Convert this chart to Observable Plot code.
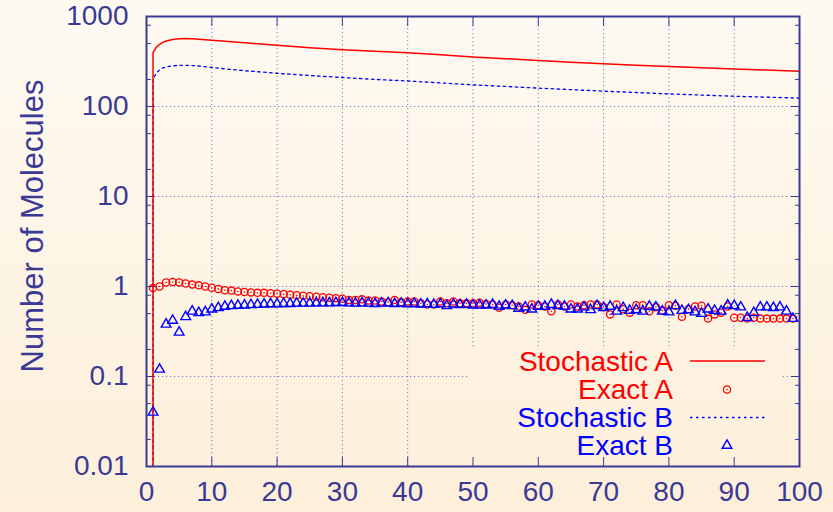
<!DOCTYPE html>
<html>
<head>
<meta charset="utf-8">
<script src="https://cdn.jsdelivr.net/npm/d3@7"></script>
<script src="https://cdn.jsdelivr.net/npm/@observablehq/plot@0.6"></script>
<style>
  html, body { margin: 0; padding: 0; }
  body {
    width: 833px; height: 512px; overflow: hidden;
    background: linear-gradient(to bottom, #fefaf2 0%, #fdf4e4 55%, #fdefda 100%);
    font-family: "Liberation Sans", Arial, Helvetica, sans-serif;
  }
  #chart { position: relative; width: 833px; height: 512px; }
</style>
</head>
<body>
<div id="chart"></div>
<script>
// ---- data -------------------------------------------------------------
// Stochastic simulation (continuous curves), sampled at these times
const stochTimes  = [1, 1, 1.5, 2, 2.5, 3, 4, 5, 6, 7, 8, 10, 12, 15, 20, 25, 30, 35, 40, 45, 50, 55, 60, 65, 70, 75, 80, 85, 90, 95, 100];
const stochasticA = [0.001, 400, 455, 490, 515, 535, 555, 565, 568, 566, 560, 545, 530, 510, 478, 450, 426, 410, 395, 375, 355, 340, 325, 310, 298, 288, 278, 270, 261, 254, 247];
const stochasticB = [0.001, 200, 235, 255, 268, 276, 283, 286, 287, 285, 282, 272, 262, 250, 234, 221, 210, 200, 192, 183, 174, 167, 160, 154, 148, 143, 138, 134, 130, 127, 124];

// Exact solution, one value per time step 1..99
const exactA = [
  0.96, 1.00, 1.11, 1.12, 1.11, 1.08, 1.05, 1.03, 1.00, 0.97,
  0.94, 0.91, 0.90, 0.88, 0.87, 0.86, 0.85, 0.85, 0.84, 0.83,
  0.82, 0.81, 0.80, 0.79, 0.78, 0.77, 0.76, 0.75, 0.74, 0.73,
  0.71, 0.71, 0.72, 0.70, 0.70, 0.68, 0.67, 0.71, 0.67, 0.68,
  0.68, 0.65, 0.63, 0.63, 0.68, 0.65, 0.68, 0.65, 0.65, 0.65,
  0.66, 0.64, 0.63, 0.58, 0.63, 0.62, 0.60, 0.55, 0.63, 0.62,
  0.60, 0.53, 0.63, 0.60, 0.63, 0.60, 0.62, 0.63, 0.63, 0.59,
  0.49, 0.63, 0.56, 0.51, 0.62, 0.62, 0.53, 0.59, 0.54, 0.62,
  0.61, 0.46, 0.56, 0.60, 0.61, 0.44, 0.49, 0.51, 0.60, 0.45,
  0.45, 0.44, 0.45, 0.44, 0.44, 0.44, 0.44, 0.44, 0.44
];
const exactB = [
  0.040, 0.12, 0.38, 0.42, 0.31, 0.46, 0.53, 0.51, 0.52, 0.56,
  0.58, 0.60, 0.61, 0.615, 0.62, 0.625, 0.63, 0.635, 0.64, 0.64,
  0.645, 0.645, 0.65, 0.65, 0.65, 0.655, 0.655, 0.655, 0.66, 0.66,
  0.655, 0.65, 0.655, 0.65, 0.645, 0.65, 0.655, 0.645, 0.65, 0.64,
  0.645, 0.635, 0.64, 0.63, 0.64, 0.61, 0.635, 0.625, 0.63, 0.62,
  0.62, 0.62, 0.63, 0.60, 0.62, 0.61, 0.57, 0.59, 0.56, 0.60,
  0.60, 0.63, 0.61, 0.60, 0.56, 0.56, 0.59, 0.55, 0.61, 0.58,
  0.60, 0.53, 0.58, 0.54, 0.55, 0.53, 0.60, 0.59, 0.53, 0.52,
  0.61, 0.54, 0.55, 0.52, 0.50, 0.56, 0.54, 0.53, 0.62, 0.61,
  0.59, 0.45, 0.51, 0.59, 0.59, 0.58, 0.59, 0.53, 0.44
];

// Axis ticks
const xTicks = [0, 10, 20, 30, 40, 50, 60, 70, 80, 90, 100];
const yTicks = [0.01, 0.1, 1, 10, 100, 1000];
const yTickLabels = ["0.01", "0.1", "1", "10", "100", "1000"];
const yMinorTicks = [0.02, 0.05, 0.08, 0.2, 0.5, 0.8, 2, 5, 8, 20, 50, 80, 200, 500, 800];

// Legend entries
const seriesNames = ["Stochastic A", "Exact A", "Stochastic B", "Exact B"];

// ---- styling ----------------------------------------------------------
const ink = "#3a3a96";
const gridInk = "#7c7cc4";
const red = "#ff0000";
const blue = "#0000ff";
const font = "Liberation Sans, Arial, Helvetica, sans-serif";

// The key box hides the grid beneath it (in data units)
const keyLeft = 49.5, keyRight = 97.5, keyTop = 0.214;

const stochRows = stochTimes.map((t, i) => ({t, a: stochasticA[i], b: stochasticB[i]}));
const exactRows = exactA.map((v, i) => ({t: i + 1, a: v, b: exactB[i]}));

const grid = {stroke: gridInk, strokeWidth: 1, strokeDasharray: "1.2,2.8"};
const circleR = 3.6, triangleR = 3.6;

const plot = Plot.plot({
  width: 833,
  height: 512,
  marginLeft: 146,
  marginRight: 34,
  marginTop: 16,
  marginBottom: 46,
  style: {background: "transparent", fontFamily: font, overflow: "visible"},
  x: {domain: [0, 100]},
  y: {type: "log", domain: [0.01, 1000]},
  marks: [
    // grid
    Plot.ruleX([10, 20, 30, 40], grid),
    Plot.ruleX([50, 60, 70, 80, 90], {...grid, y1: keyTop, y2: 1000}),
    Plot.ruleY([1, 10, 100], grid),
    Plot.ruleY([0.1], {...grid, x1: 0, x2: keyLeft}),
    Plot.ruleY([0.1], {...grid, x1: keyRight, x2: 100}),

    // axes with inward ticks on all four sides
    Plot.axisX(xTicks, {anchor: "bottom", tickSize: -9, tickPadding: 24, fontSize: 28, color: ink, tickFormat: d => String(d), label: null}),
    Plot.axisX(xTicks, {anchor: "top", tickSize: -9, tickFormat: () => "", color: ink, label: null}),
    Plot.axisY(yTicks, {anchor: "left", tickSize: -9, tickPadding: 27, fontSize: 28, color: ink, tickFormat: d => yTickLabels[yTicks.indexOf(d)], label: null}),
    Plot.axisY(yMinorTicks, {anchor: "left", tickSize: -5, tickFormat: () => "", color: ink, label: null}),
    Plot.axisY(yTicks, {anchor: "right", tickSize: -9, tickFormat: () => "", color: ink, label: null}),
    Plot.axisY(yMinorTicks, {anchor: "right", tickSize: -5, tickFormat: () => "", color: ink, label: null}),

    // stochastic curves
    Plot.line(stochRows, {x: "t", y: "b", stroke: blue, strokeWidth: 1.3, strokeDasharray: "2.5,3.5", clip: true}),
    Plot.line(stochRows, {x: "t", y: "a", stroke: red, strokeWidth: 1.5, clip: true}),

    // exact solution points
    Plot.dot(exactRows, {x: "t", y: "a", r: circleR, stroke: red, strokeWidth: 1.3, fill: "none"}),
    Plot.dot(exactRows, {x: "t", y: "a", r: 0.8, fill: red}),
    Plot.dot(exactRows, {x: "t", y: "b", symbol: "triangle", r: triangleR, stroke: blue, strokeWidth: 1.4, fill: "none"}),

    Plot.frame({stroke: ink, strokeWidth: 2})
  ]
});

document.getElementById("chart").appendChild(plot);

const svg = d3.select(plot);

// y-axis title
svg.append("text")
  .attr("transform", "translate(32,226) rotate(-90)")
  .attr("text-anchor", "middle")
  .attr("dominant-baseline", "central")
  .attr("font-family", font)
  .attr("font-size", 31)
  .attr("fill", ink)
  .text("Number of Molecules");

// key
const key = svg.append("g").attr("font-family", font).attr("font-size", 28);
const keyRows = [361, 389.5, 417.5, 445.5];
const keyColors = [red, red, blue, blue];
seriesNames.forEach((name, i) => {
  key.append("text")
    .attr("x", 673).attr("y", keyRows[i]).attr("dy", "0.35em")
    .attr("text-anchor", "end")
    .attr("fill", keyColors[i])
    .text(name);
});
key.append("line").attr("x1", 690).attr("x2", 765).attr("y1", keyRows[0]).attr("y2", keyRows[0])
  .attr("stroke", red).attr("stroke-width", 1.5);
key.append("circle").attr("cx", 727).attr("cy", keyRows[1]).attr("r", circleR)
  .attr("fill", "none").attr("stroke", red).attr("stroke-width", 1.3);
key.append("circle").attr("cx", 727).attr("cy", keyRows[1]).attr("r", 0.8).attr("fill", red);
key.append("line").attr("x1", 690).attr("x2", 765).attr("y1", keyRows[2]).attr("y2", keyRows[2])
  .attr("stroke", blue).attr("stroke-width", 1.3).attr("stroke-dasharray", "2.5,3.5");
key.append("path").attr("transform", `translate(727,${keyRows[3]})`)
  .attr("d", d3.symbol(d3.symbolTriangle, Math.PI * triangleR * triangleR)())
  .attr("fill", "none").attr("stroke", blue).attr("stroke-width", 1.4);
</script>
</body>
</html>
